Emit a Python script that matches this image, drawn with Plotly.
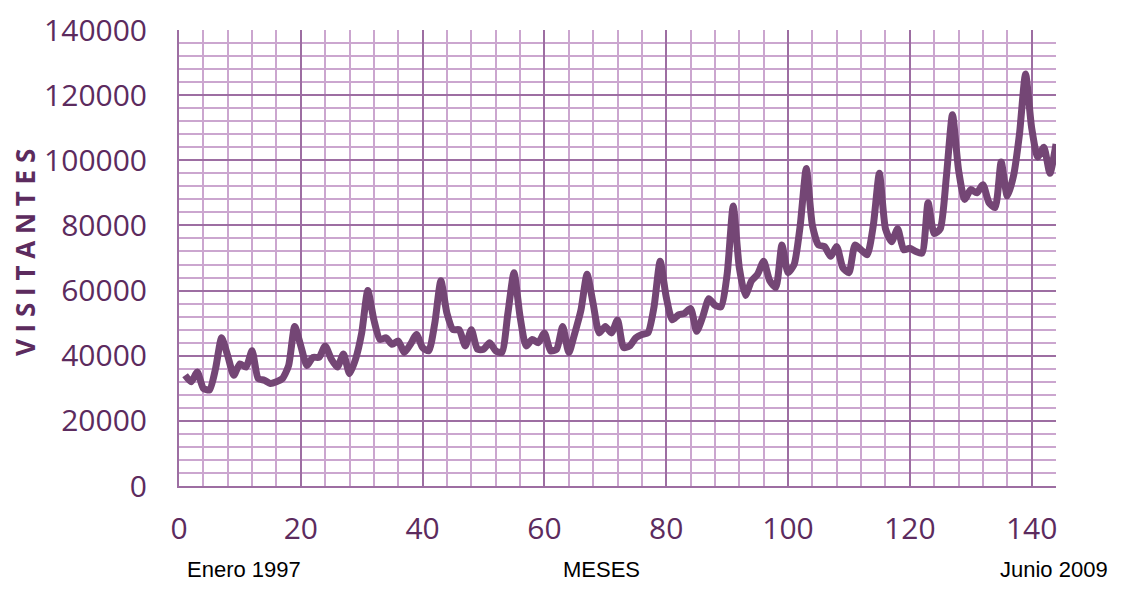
import plotly.graph_objects as go

# monthly visitors, Jan 1997 .. 2009
meses = list(range(1, 145))
visitantes = [
    34000, 32000, 35000, 30000, 29500, 36000, 45500, 40000, 34000, 37500, 36500, 41500,
    33000, 32500, 31500, 32000, 33000, 37000, 49000, 43000, 37000, 39500, 39500, 43000,
    39000, 36500, 40500, 34500, 39000, 47000, 60000, 51000, 45000, 45500, 43500, 44500,
    41000, 43500, 46500, 42500, 41500, 50000, 63000, 53000, 48000, 48000, 43000, 48000,
    42000, 42000, 44000, 41500, 41000, 53000, 65500, 52000, 43000, 45000, 44000, 47000,
    41500, 42000, 49000, 41000, 47000, 54000, 65000, 56000, 47000, 49000, 47000, 51000,
    42500, 43000, 45500, 46500, 47000, 55000, 69000, 58000, 51000, 52500, 53000, 54500,
    47500, 52000, 57500, 55500, 55000, 65000, 86000, 67000, 58500, 63000, 65000, 69000,
    63000, 61000, 74000, 65500, 68000, 80000, 97500, 80000, 74000, 73500, 70500, 73500,
    67000, 65500, 74000, 72500, 71000, 80000, 96000, 79000, 75000, 79000, 72500, 73000,
    72000, 71500, 87000, 77500, 79000, 95000, 114000, 97000, 88000, 91000, 90000, 92500,
    87000, 85500, 99500, 89000, 95000, 108000, 126500, 110000, 101000, 104000, 96000, 105000,
]

x_ticks = [0, 20, 40, 60, 80, 100, 120, 140]
y_ticks = [0, 20000, 40000, 60000, 80000, 100000, 120000, 140000]

LINE = "#744675"
TXT = "#5c2b5e"
MAJOR = "#9d6ea2"
MINOR = "#cba6cf"

fig = go.Figure()
fig.add_trace(go.Scatter(
    x=meses, y=visitantes, mode="lines",
    line=dict(color=LINE, width=7, shape="spline", smoothing=0.6),
    showlegend=False, hoverinfo="x+y",
))

tick_font = dict(family="Open Sans, Noto Sans, sans-serif", size=30, color=TXT)

fig.update_xaxes(
    range=[0, 144], tickvals=x_ticks, ticktext=[str(v) for v in x_ticks],
    showgrid=True, gridcolor=MAJOR, gridwidth=2,
    minor=dict(dtick=4, tick0=0, showgrid=True, gridcolor=MINOR, gridwidth=2),
    showline=True, linecolor=MAJOR, linewidth=2, mirror=False,
    zeroline=False, ticks="outside", ticklen=15, tickcolor="rgba(0,0,0,0)",
    tickfont=tick_font, automargin=False,
)
fig.update_yaxes(
    range=[0, 140000], tickvals=y_ticks, ticktext=[str(v) for v in y_ticks],
    showgrid=True, gridcolor=MAJOR, gridwidth=2,
    minor=dict(dtick=4000, tick0=0, showgrid=True, gridcolor=MINOR, gridwidth=2),
    showline=True, linecolor=MAJOR, linewidth=2,
    zeroline=False, ticks="outside", ticklen=24, tickcolor="rgba(0,0,0,0)",
    tickfont=tick_font, automargin=False,
)

label_font = dict(family="Liberation Sans, Arial, sans-serif", size=22, color="black")
fig.add_annotation(text="Enero 1997", xref="paper", yref="paper", x=0.007, y=-0.184,
                   xanchor="left", yanchor="middle", showarrow=False, font=label_font)
fig.add_annotation(text="MESES", xref="paper", yref="paper", x=0.482, y=-0.184,
                   xanchor="center", yanchor="middle", showarrow=False, font=label_font)
fig.add_annotation(text="Junio 2009", xref="paper", yref="paper", x=1.0616, y=-0.184,
                   xanchor="right", yanchor="middle", showarrow=False, font=label_font)
fig.add_annotation(text="V I S I T A N T E S", xref="paper", yref="paper", x=-0.1756, y=0.513,
                   xanchor="center", yanchor="middle", textangle=-90, showarrow=False,
                   font=dict(family="Open Sans, Noto Sans, sans-serif", size=26, color=TXT,
                             weight="bold"))

# page body adds 8px offset, so margins are shifted to compensate
fig.update_layout(
    width=1122, height=592,
    margin=dict(l=171, r=74, t=22, b=114),
    plot_bgcolor="white", paper_bgcolor="white",
)

fig.write_html("out.html")
